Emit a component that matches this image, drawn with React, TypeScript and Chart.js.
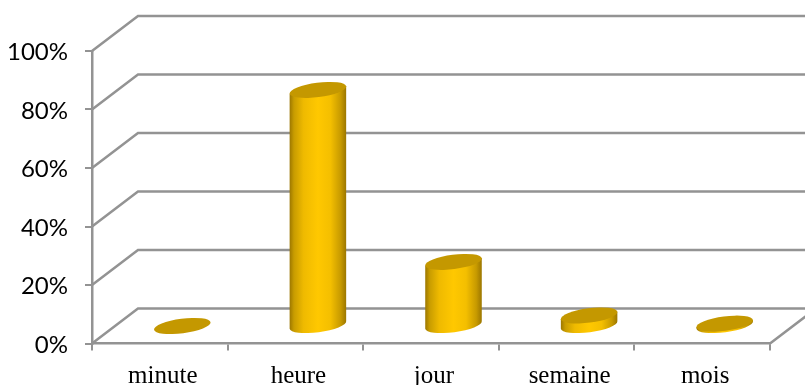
import React, { useEffect, useRef } from "react";
import { Chart, registerables } from "chart.js";

Chart.register(...registerables);

const categories = ["minute", "heure", "jour", "semaine", "mois"];
const shares = [0, 80.7, 21.9, 3.6, 0.8];

const LINE = "#939393";
const DEPTH_X = 46;
const DEPTH_Y = 35;
const TILT = -0.13;
const RX = 28.5;
const RY = 7.2;

// Back wall, side wall and floor of the pseudo-3D box, derived from the axes.
const wallPlugin = {
  id: "walls",
  beforeDatasetsDraw(chart: any) {
    const { ctx, scales } = chart;
    const { x, y } = scales;
    const left = x.left;
    const right = x.right;
    ctx.save();
    ctx.strokeStyle = LINE;
    ctx.lineWidth = 2.5;
    ctx.lineCap = "round";
    for (const tick of y.ticks) {
      const py = y.getPixelForValue(tick.value);
      ctx.beginPath();
      ctx.moveTo(left, py);
      ctx.lineTo(left + DEPTH_X, py - DEPTH_Y);
      ctx.lineTo(right + DEPTH_X, py - DEPTH_Y);
      ctx.stroke();
    }
    const base = y.getPixelForValue(0);
    ctx.beginPath();
    ctx.moveTo(right, base);
    ctx.lineTo(right + DEPTH_X, base - DEPTH_Y);
    ctx.stroke();
    ctx.restore();
  },
};

// Each bar is painted as a cylinder standing halfway along the floor's depth.
const cylinderPlugin = {
  id: "cylinders",
  afterDatasetsDraw(chart: any) {
    const { ctx } = chart;
    const bars = chart.getDatasetMeta(0).data;
    bars.forEach((bar: any) => {
      const cx = bar.x + DEPTH_X / 2 - 0.5;
      const top = bar.y - DEPTH_Y / 2;
      const bottom = bar.base - DEPTH_Y / 2;
      const dx = RX * Math.cos(TILT);
      const dy = RX * Math.sin(TILT);
      ctx.save();
      if (bottom - top > 0.5) {
        const g = ctx.createLinearGradient(cx - RX, 0, cx + RX, 0);
        g.addColorStop(0, "#9a7500");
        g.addColorStop(0.08, "#c89c00");
        g.addColorStop(0.25, "#efba00");
        g.addColorStop(0.5, "#ffc800");
        g.addColorStop(0.72, "#f4bf00");
        g.addColorStop(0.9, "#c79a00");
        g.addColorStop(1, "#9a7500");
        ctx.fillStyle = g;
        ctx.beginPath();
        ctx.ellipse(cx, bottom, RX, RY, TILT, 0, Math.PI);
        ctx.lineTo(cx - dx, top - dy);
        ctx.lineTo(cx + dx, top + dy);
        ctx.closePath();
        ctx.fill();
      }
      ctx.fillStyle = "#c49800";
      ctx.beginPath();
      ctx.ellipse(cx, top, RX, RY, TILT, 0, Math.PI * 2);
      ctx.fill();
      ctx.restore();
    });
  },
};

export default function App() {
  const ref = useRef<HTMLCanvasElement>(null);

  useEffect(() => {
    const chart = new Chart(ref.current!, {
      type: "bar",
      data: {
        labels: categories,
        datasets: [
          {
            data: shares,
            backgroundColor: "rgba(0,0,0,0)",
            borderWidth: 0,
            barThickness: 57,
          },
        ],
      },
      options: {
        animation: false,
        responsive: false,
        layout: { padding: { top: 51, right: 35, left: 0, bottom: 0 } },
        plugins: { legend: { display: false }, tooltip: { enabled: false } },
        scales: {
          x: {
            afterFit(scale: any) {
              scale.height = 41.5;
            },
            grid: {
              drawOnChartArea: false,
              drawTicks: true,
              tickLength: 7,
              color: LINE,
              lineWidth: 2,
              offset: true,
            },
            border: { color: LINE, width: 2.5 },
            ticks: {
              color: "#000000",
              padding: 11,
              labelOffset: 3,
              maxRotation: 0,
              font: { family: "Liberation Serif", size: 25 },
            },
          },
          y: {
            min: 0,
            max: 100,
            afterFit(scale: any) {
              scale.width = 92;
            },
            grid: {
              drawOnChartArea: false,
              drawTicks: true,
              tickLength: 7,
              color: LINE,
              lineWidth: 2,
            },
            border: { color: LINE, width: 2.5 },
            ticks: {
              stepSize: 20,
              color: "#000000",
              padding: 17,
              labelOffset: 1.5,
              font: { family: "Lato", size: 24 },
              callback: (v: any) => `${v}%`,
            },
          },
        },
      },
      plugins: [wallPlugin, cylinderPlugin],
    } as any);
    return () => chart.destroy();
  }, []);

  return (
    <div style={{ position: "absolute", left: 0, top: 0, width: 805, height: 385 }}>
      <canvas ref={ref} width={805} height={385} style={{ display: "block" }} />
    </div>
  );
}
